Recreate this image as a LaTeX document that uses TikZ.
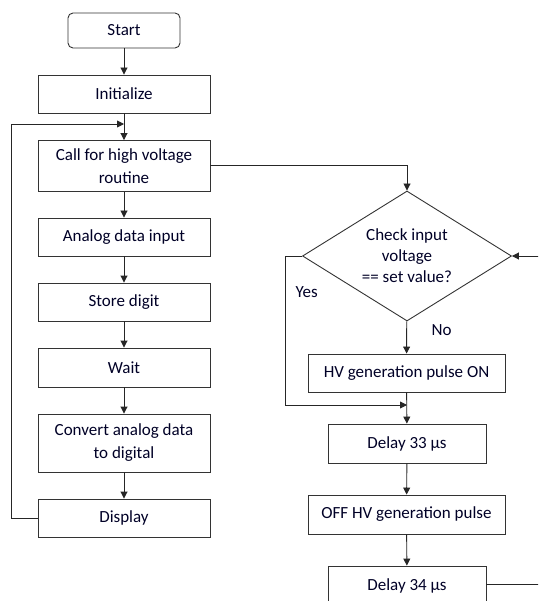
\documentclass[tikz,border=0pt]{standalone}
\usepackage{fontspec}
\setmainfont{Carlito}
\usetikzlibrary{shapes.geometric,arrows.meta}

\begin{document}
\begin{tikzpicture}[x=1pt,y=-1pt,
  every node/.style={font=\fontsize{17}{21}\selectfont, text=black!85!blue},
  box/.style={draw=black!80, line width=0.9pt, inner sep=0pt, align=center},
  decision/.style={draw=black!80, line width=0.9pt, diamond, aspect=1.6, inner sep=0pt, align=center},
  line/.style={draw=black!85, line width=0.9pt},
  arrow/.style={line, -{Triangle[length=7pt,width=7pt]}}]
\useasboundingbox (0,0) rectangle (538,601);
\clip (0,0) rectangle (538,601);
\node[box, rounded corners=5pt, minimum width=112, minimum height=35] at (124,30.5) (start) {Start};
\node[box, minimum width=172, minimum height=38] at (124,94) (init) {Initialize};
\node[box, minimum width=172, minimum height=51] at (124,166) (call) {Call for high voltage\\[2pt]routine};
\node[box, minimum width=172, minimum height=38] at (124,237) (analog) {Analog data input};
\node[box, minimum width=172, minimum height=38] at (124,302) (store) {Store digit};
\node[box, minimum width=172, minimum height=39] at (124,367.5) (wait) {Wait};
\node[box, minimum width=172, minimum height=58] at (124,443) (convert) {Convert analog data\\[2pt]to digital};
\node[box, minimum width=172, minimum height=38] at (124,518) (display) {Display};
\node[decision, minimum width=209, minimum height=130] at (407,256) (check) {Check input\\voltage\\== set value?};
\node[box, minimum width=197, minimum height=38] at (406.5,373) (hvon) {HV generation pulse ON};
\node[box, minimum width=158, minimum height=39] at (407,443.5) (delay1) {Delay 33 µs};
\node[box, minimum width=197, minimum height=39] at (406.5,514.5) (hvoff) {OFF HV generation pulse};
\node[box, minimum width=158, minimum height=39] at (407,585.5) (delay2) {Delay 34 µs};
\node[anchor=west] at (292,292) (yes) {Yes};
\node[anchor=west] at (428,330) (no) {No};
\coordinate (back) at (124,124);
\coordinate (join) at (407,405);
\draw[arrow] (start) -- (init);
\draw[arrow] (init) -- (call);
\draw[arrow] (call) -- (analog);
\draw[arrow] (analog) -- (store);
\draw[arrow] (store) -- (wait);
\draw[arrow] (wait) -- (convert);
\draw[arrow] (convert) -- (display);
\draw[arrow] (display.west) -- (11,518) -- (11,124) -- (back);
\draw[arrow] (call.east |- 0,165) -- (407,165) -- (check.north);
\draw[arrow] (check) -- (hvon);
\draw[arrow] (check.west) -- (285,256) -- (285,405) -- (join);
\draw[arrow] (hvon) -- (delay1);
\draw[arrow] (delay1) -- (hvoff);
\draw[arrow] (hvoff) -- (delay2);
\draw[arrow] (delay2.east |- 0,584) -- (545,584) -- (545,256) -- (check.east);
\end{tikzpicture}
\end{document}
